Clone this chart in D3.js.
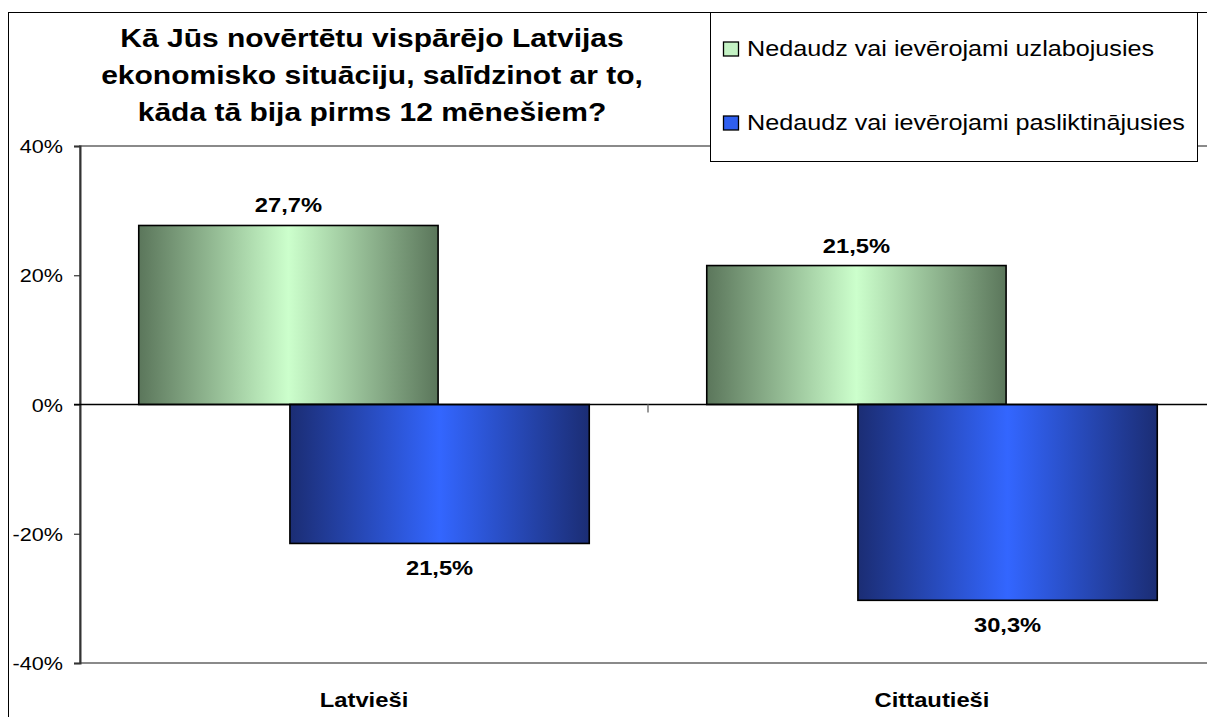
<!DOCTYPE html>
<html>
<head>
<meta charset="utf-8">
<script src="https://cdn.jsdelivr.net/npm/d3@7"></script>
<style>
  html, body { margin: 0; padding: 0; background: #fff; }
  svg { display: block; }
  text { font-family: "Liberation Sans", Arial, sans-serif; fill: #000; }
</style>
</head>
<body>
<svg id="chart" width="1207" height="717"></svg>
<script>
// ---------- data ----------
const categories = ["Latvieši", "Cittautieši"];
const seriesNames = ["Nedaudz vai ievērojami uzlabojusies", "Nedaudz vai ievērojami pasliktinājusies"];
const improved = [27.7, 21.5];
const worsened = [-21.5, -30.3];
const yTicks = [-40, -20, 0, 20, 40];
const titleLines = [
  "Kā Jūs novērtētu vispārējo Latvijas",
  "ekonomisko situāciju, salīdzinot ar to,",
  "kāda tā bija pirms 12 mēnešiem?"
];

// ---------- layout ----------
const W = 1207, H = 717;
const plot = { left: 80, right: 1216, top: 146, bottom: 663 };

const svg = d3.select("#chart");
const defs = svg.append("defs");

function hGrad(id, edge, center) {
  const g = defs.append("linearGradient").attr("id", id)
    .attr("x1", "0%").attr("x2", "100%").attr("y1", "0%").attr("y2", "0%");
  [[0, edge], [0.5, center], [1, edge]].forEach(([o, c]) =>
    g.append("stop").attr("offset", o).attr("stop-color", c));
}
hGrad("gGreen", "#5b765b", "#ccffcc");
hGrad("gBlue", "#1b2d74", "#3366ff");

function txt(sel, x, y, s, opts) {
  const sx = opts.sx || 1.2;
  return sel.append("text")
    .attr("transform", `translate(${x},${y}) scale(${sx},1)`)
    .attr("font-size", opts.size)
    .attr("font-weight", opts.bold ? "bold" : "normal")
    .attr("text-anchor", opts.anchor || "start")
    .text(s);
}

// outer border
svg.append("rect").attr("x", 8.5).attr("y", 12.5).attr("width", 1300).attr("height", 800)
  .attr("fill", "none").attr("stroke", "#000").attr("stroke-width", 1);

// scales
const x = d3.scaleBand().domain(categories).range([plot.left, plot.right]).padding(0);
const y = d3.scaleLinear().domain([-40, 40]).range([plot.bottom, plot.top]);

// plot area border (gray)
svg.append("rect").attr("x", plot.left).attr("y", y(40))
  .attr("width", plot.right - plot.left + 20).attr("height", y(-40) - y(40))
  .attr("fill", "none").attr("stroke", "#8a8a8a").attr("stroke-width", 2);

// bars
const barW = x.bandwidth() * 0.527;
const off = barW * 0.2525;
const series = [
  { vals: improved, fill: "url(#gGreen)", dx: -off },
  { vals: worsened, fill: "url(#gBlue)", dx: off }
];
series.forEach(s => {
  svg.append("g").selectAll("rect").data(categories).join("rect")
    .attr("x", (c) => x(c) + x.bandwidth() / 2 + s.dx - barW / 2)
    .attr("y", (c, i) => y(Math.max(0, s.vals[i])))
    .attr("width", barW)
    .attr("height", (c, i) => Math.abs(y(s.vals[i]) - y(0)))
    .attr("fill", s.fill)
    .attr("stroke", "#000").attr("stroke-width", 1.6);
});

// y axis
const yAxis = d3.axisLeft(y).tickValues(yTicks).tickSize(6).tickFormat(d => d + "%");
const ya = svg.append("g").attr("transform", `translate(${plot.left},0)`).call(yAxis);
ya.select(".domain").attr("stroke", "#333").attr("stroke-width", 2);
ya.selectAll(".tick line").attr("stroke", "#333").attr("stroke-width", 1.2);
ya.selectAll(".tick text").remove();
yTicks.forEach(v => txt(svg, 63, y(v) + 7, v + "%", { size: 18, anchor: "end" }));

// zero axis with category boundary ticks
svg.append("line").attr("x1", plot.left - 6).attr("x2", W).attr("y1", y(0)).attr("y2", y(0))
  .attr("stroke", "#000").attr("stroke-width", 1.3);
categories.slice(1).forEach(c => {
  svg.append("line").attr("x1", x(c)).attr("x2", x(c)).attr("y1", y(0)).attr("y2", y(0) + 8)
    .attr("stroke", "#777").attr("stroke-width", 1.5);
});

// data labels
const fmt = v => Math.abs(v).toFixed(1).replace(".", ",") + "%";
categories.forEach((c, i) => {
  const cx = x(c) + x.bandwidth() / 2;
  txt(svg, cx - off, y(improved[i]) - 13, fmt(improved[i]), { size: 21, sx: 1.13, bold: true, anchor: "middle" });
  txt(svg, cx + off, y(worsened[i]) + 32, fmt(worsened[i]), { size: 21, sx: 1.13, bold: true, anchor: "middle" });
  txt(svg, cx, 707, c, { size: 20.5, sx: 1.16, bold: true, anchor: "middle" });
});

// title
titleLines.forEach((l, i) => txt(svg, 372, 47 + i * 37, l, { size: 25, bold: true, anchor: "middle" }));

// legend
const lg = svg.append("g");
lg.append("rect").attr("x", 710.5).attr("y", 12.5).attr("width", 487).attr("height", 149)
  .attr("fill", "#fff").attr("stroke", "#000").attr("stroke-width", 1);
seriesNames.forEach((n, i) => {
  const cy = 49 + i * 74;
  lg.append("rect").attr("x", 723.5).attr("y", cy - 7).attr("width", 15).attr("height", 14)
    .attr("fill", i === 0 ? "#c4f2c4" : "#2f5ff0").attr("stroke", "#000").attr("stroke-width", 1.3);
  txt(lg, 747, cy + 7, n, { size: 22, sx: 1.145 });
});
</script>
</body>
</html>
